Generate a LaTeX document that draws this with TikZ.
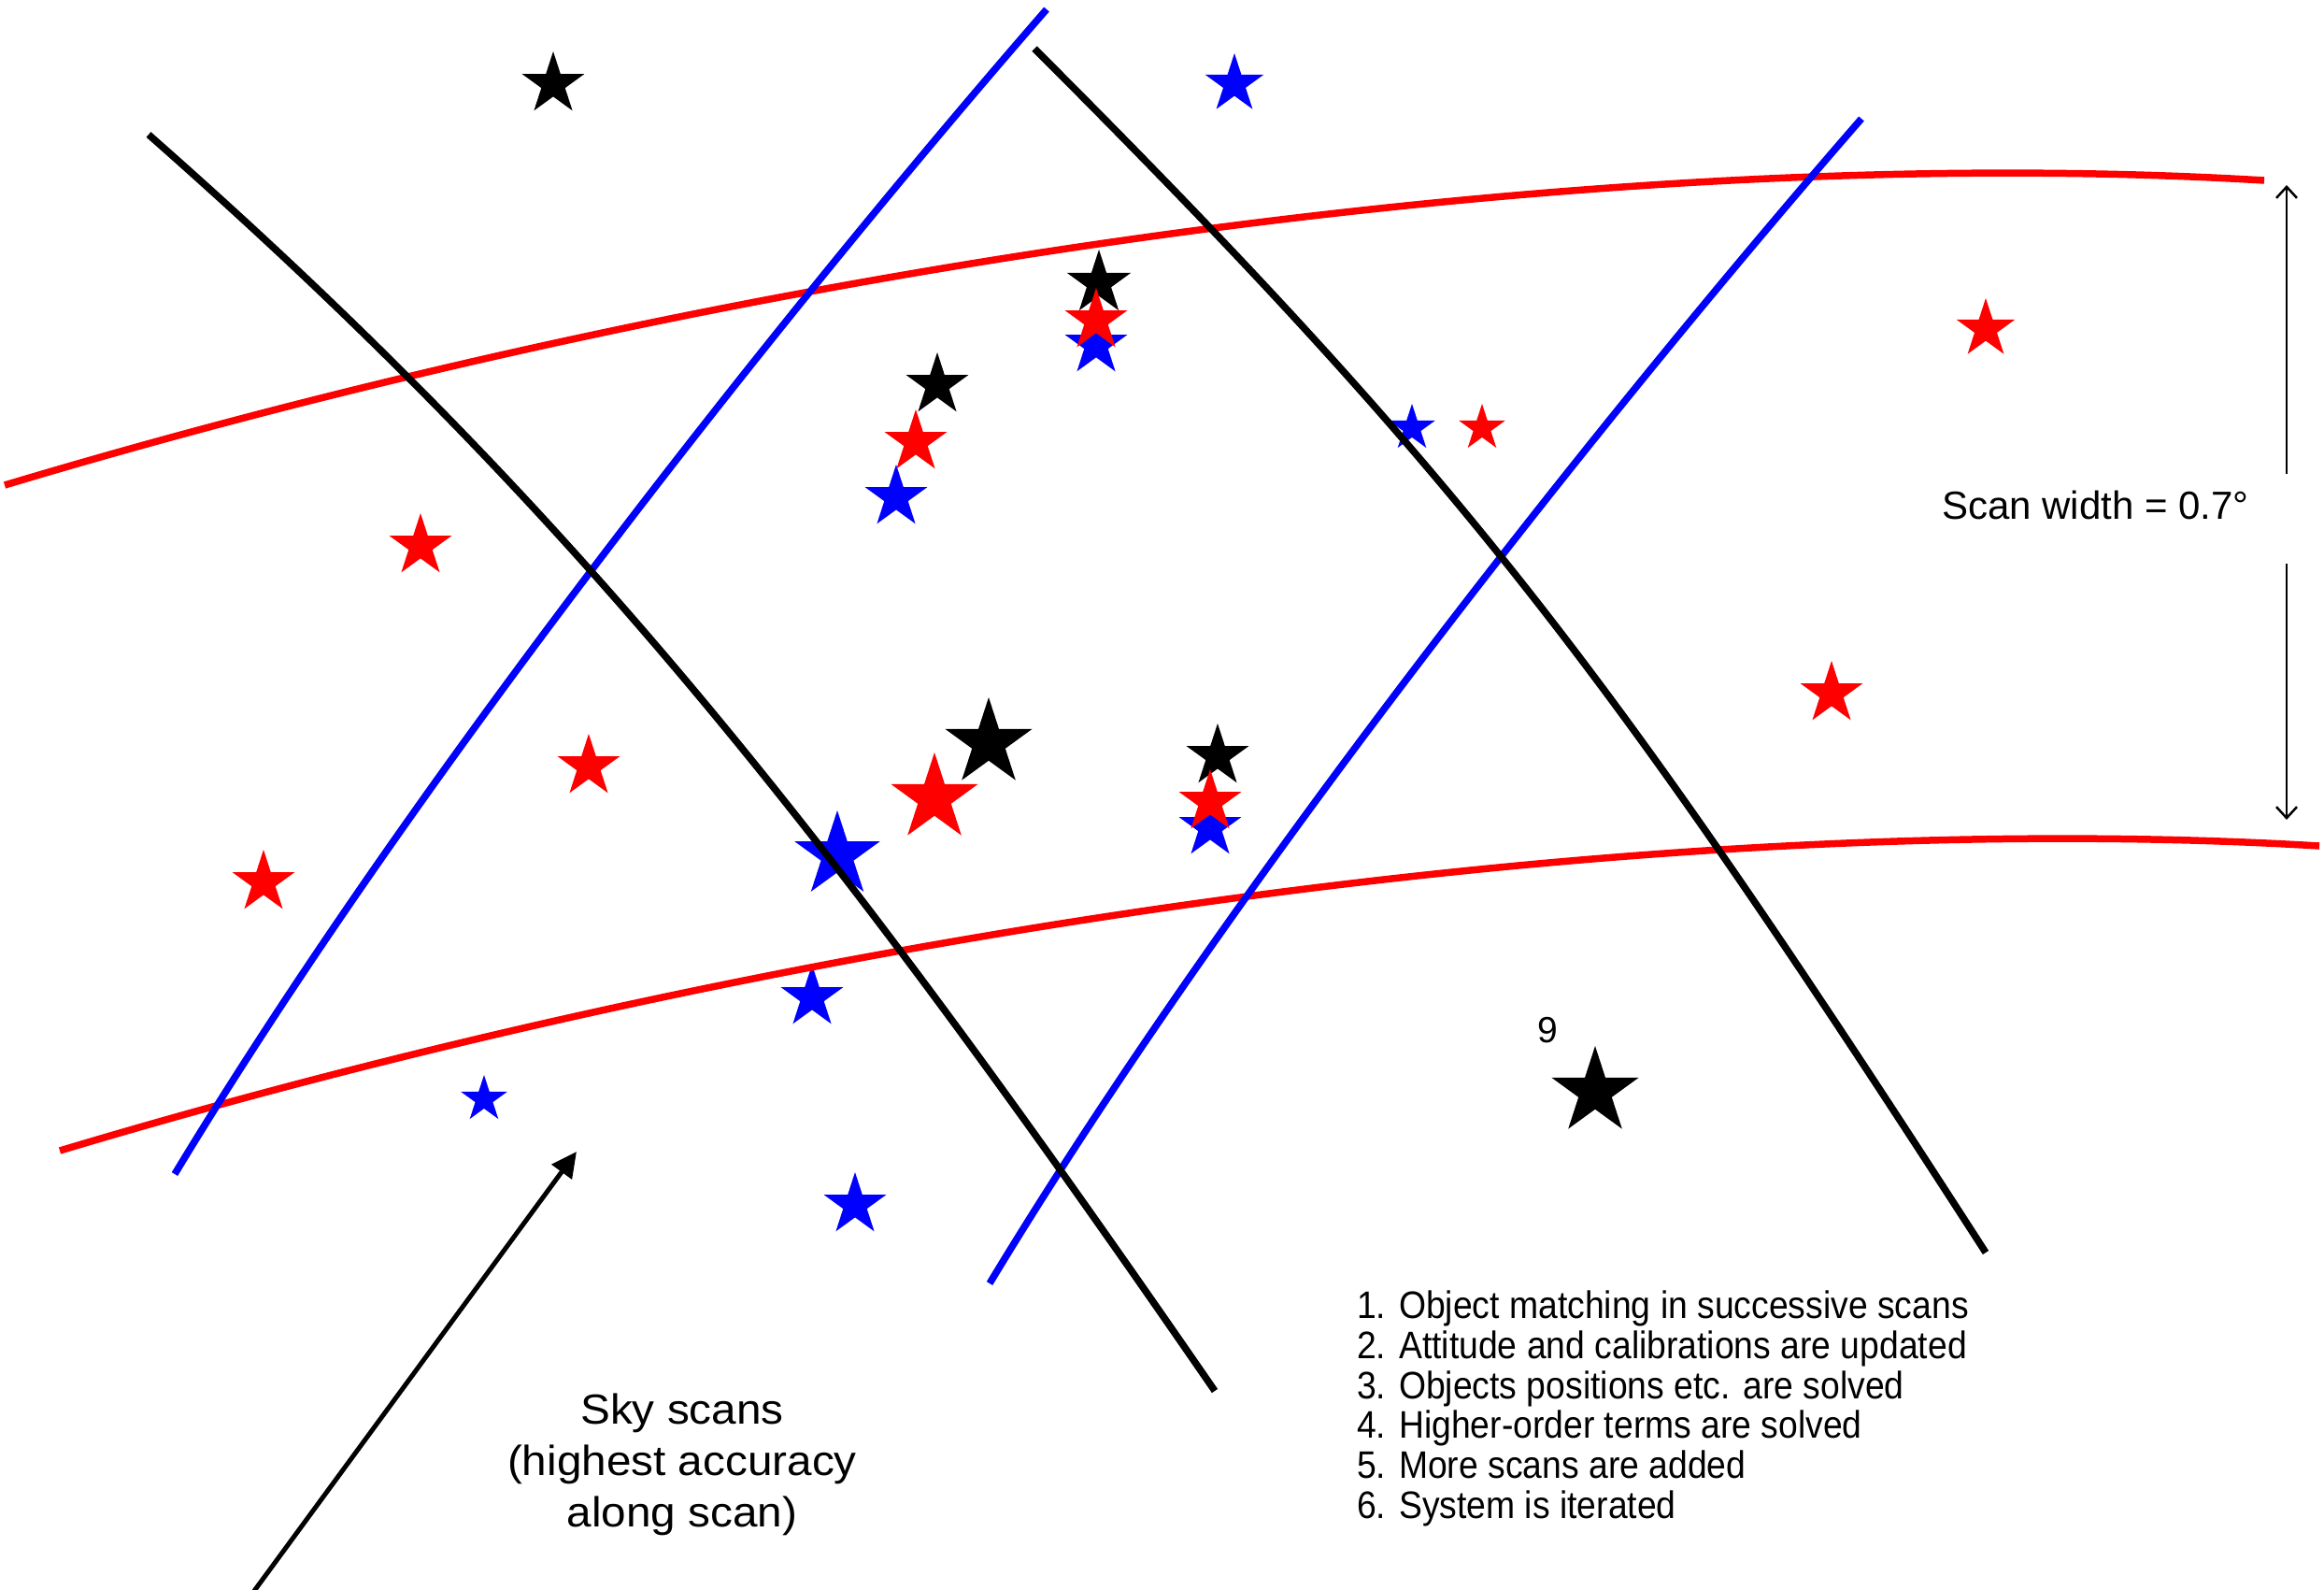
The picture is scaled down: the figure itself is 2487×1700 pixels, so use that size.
\documentclass[tikz,border=0pt]{standalone}
\usepackage{fontspec}
\setmainfont{Liberation Sans}
\usetikzlibrary{arrows.meta}
\begin{document}
\begin{tikzpicture}[x=1pt,y=-1pt,
  scanline/.style={line width=7.5pt},
  star5/.pic={\path[pic actions] (270:#1) -- (234:{0.382*#1}) -- (198:#1) -- (162:{0.382*#1}) -- (126:#1) -- (90:{0.382*#1}) -- (54:#1) -- (18:{0.382*#1}) -- (342:#1) -- (306:{0.382*#1}) -- cycle;},
  listtext/.style={anchor=base west, inner sep=0pt, font=\fontsize{41}{47}\selectfont},
  lbl/.style={inner sep=0pt}
]
\useasboundingbox (0,0) rectangle (2487,1700);
\fill[white] (0,0) rectangle (2487,1700);

% stars
\pic[fill=black] at (592,90) {star5=35};
\pic[fill=blue] at (1321,90) {star5=33};
\pic[fill=black] at (1176,303) {star5=36};
\pic[fill=blue] at (1173,369) {star5=35};
\pic[fill=red] at (1173,343) {star5=35};
\pic[fill=black] at (1003,412) {star5=35};
\pic[fill=blue] at (959,532) {star5=35};
\pic[fill=red] at (980,473) {star5=35};
\pic[fill=blue] at (1511,458) {star5=26};
\pic[fill=red] at (1586,458) {star5=26};
\pic[fill=red] at (2125,352) {star5=33};
\pic[fill=red] at (450,584) {star5=35};
\pic[fill=red] at (630,820) {star5=35};
\pic[fill=red] at (282,944) {star5=35};
\pic[fill=black] at (1058,795) {star5=49};
\pic[fill=red] at (1000,854) {star5=49};
\pic[fill=blue] at (896,915) {star5=48};
\pic[fill=black] at (1303,809) {star5=35};
\pic[fill=blue] at (1295,885) {star5=35};
\pic[fill=red] at (1295,858) {star5=35};
\pic[fill=red] at (1960,742) {star5=35};
\pic[fill=blue] at (869,1067) {star5=35};
\pic[fill=blue] at (518,1176) {star5=26};
\pic[fill=blue] at (915,1289) {star5=35};
\pic[fill=black] at (1707,1168) {star5=49};

% scan lines
\draw[scanline, red] (5,519) .. controls (805,279) and (1723,151) .. (2423,193);
\draw[scanline, red, shift={(59,712)}] (5,519) .. controls (805,279) and (1723,151) .. (2423,193);
\draw[scanline, blue] (187,1256) .. controls (447,826) and (850,320) .. (1120,10);
\draw[scanline, blue, shift={(872,117)}] (187,1256) .. controls (447,826) and (850,320) .. (1120,10);
\draw[scanline, black] (159,144) .. controls (609,540) and (880,879) .. (1300,1488);
\draw[scanline, black] (1107,52) .. controls (1567,512) and (1725,720) .. (2125,1340);

% scan width
\coordinate (swtop) at (2447,198);
\coordinate (swa) at (2447,507);
\coordinate (swb) at (2447,603);
\coordinate (swbot) at (2447,877);
\draw[line width=2.5pt, -{Straight Barb[length=12pt,width=22pt]}] (swa) -- (swtop);
\draw[line width=2.5pt, -{Straight Barb[length=12pt,width=22pt]}] (swb) -- (swbot);
\node[lbl, anchor=base west, font=\fontsize{42}{48}\selectfont] (sw) at (2078,555) {Scan width = 0.7°};

% sky scans arrow
\coordinate (skyfoot) at (272,1702);
\coordinate (skytip) at (617,1232);
\draw[line width=5pt, -{Triangle[length=27pt,width=26pt]}] (skyfoot) -- (skytip);
\node[lbl, anchor=base, font=\fontsize{45}{55}\selectfont] (sky1) at (730,1523) {\scalebox{1.06}[1]{Sky scans}};
\node[lbl, anchor=base, font=\fontsize{45}{55}\selectfont] (sky2) at (730,1578) {\scalebox{1.06}[1]{(highest accuracy}};
\node[lbl, anchor=base, font=\fontsize{45}{55}\selectfont] (sky3) at (730,1633) {\scalebox{1.06}[1]{along scan)}};

% label 9
\node[lbl, anchor=base, font=\fontsize{39}{45}\selectfont] (nine) at (1656,1115) {9};

% list
\node[listtext] (l1) at (1452,1410) {\scalebox{0.91}[1]{1. Object matching in successive scans}};
\node[listtext] (l2) at (1452,1453) {\scalebox{0.91}[1]{2. Attitude and calibrations are updated}};
\node[listtext] (l3) at (1452,1496) {\scalebox{0.91}[1]{3. Objects positions etc. are solved}};
\node[listtext] (l4) at (1452,1538) {\scalebox{0.91}[1]{4. Higher-order terms are solved}};
\node[listtext] (l5) at (1452,1581) {\scalebox{0.91}[1]{5. More scans are added}};
\node[listtext] (l6) at (1452,1624) {\scalebox{0.91}[1]{6. System is iterated}};
\end{tikzpicture}
\end{document}
